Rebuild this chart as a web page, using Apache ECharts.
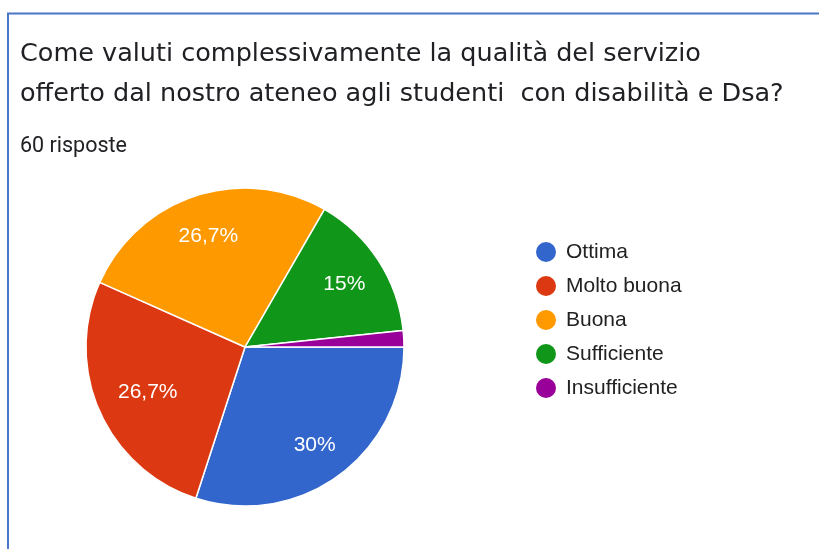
<!DOCTYPE html>
<html><head><meta charset="utf-8">
<script src="https://cdn.jsdelivr.net/npm/echarts@6/dist/echarts.min.js"></script>
<style>html,body{margin:0;padding:0;background:#fff}#c{width:819px;height:549px}</style>
</head><body><div id="c"></div>
<script>
const categories = ['Ottima', 'Molto buona', 'Buona', 'Sufficiente', 'Insufficiente'];
const counts = [18, 16, 16, 9, 1];
const colors = ['#3366cc', '#dc3912', '#ff9900', '#109618', '#990099'];
const titleLines = ['Come valuti complessivamente la qualità del servizio', 'offerto dal nostro ateneo agli studenti  con disabilità e Dsa?'];
const subtitle = '60 risposte';

const data = categories.map((n, i) => ({ name: n, value: counts[i], itemStyle: { color: colors[i] } }));
const fmt = p => {
  const v = Math.round(p.percent * 10) / 10;
  return String(v).replace('.', ',') + '%';
};
const chart = echarts.init(document.getElementById('c'));
chart.setOption({
  animation: false,
  graphic: [{
    type: 'rect', shape: { x: 8, y: 13.5, width: 830, height: 560 },
    style: { fill: 'none', stroke: '#4a76c8', lineWidth: 2 }, silent: true
  }],
  title: [{
    text: titleLines.join('\n'), left: 15, top: 29,
    textStyle: { fontFamily: 'DejaVu Sans', fontSize: 25.5, fontWeight: 'normal', color: '#202124', lineHeight: 40 }
  }, {
    text: subtitle, left: 15, top: 131,
    textStyle: { fontFamily: 'Roboto', fontSize: 21.5, fontWeight: 'normal', color: '#202124' }
  }],
  legend: {
    orient: 'vertical', left: 529, top: 235, icon: 'circle', itemWidth: 22, itemHeight: 22, itemGap: 10,
    data: categories,
    textStyle: { fontFamily: 'Liberation Sans', fontSize: 21, lineHeight: 22, color: '#222', padding: [0, 0, 0, 4] }
  },
  series: [{
    type: 'pie', center: [245, 347], radius: [0, 159], startAngle: 0, clockwise: true,
    data: data, label: { show: false }, labelLine: { show: false },
    itemStyle: { borderColor: '#fff', borderWidth: 1.5 }, silent: true
  }, {
    type: 'pie', center: [245, 347], radius: [72, 159], startAngle: 0, clockwise: true,
    data: data.map((d, i) => i === 1
      ? { name: d.name, value: d.value, label: { offset: [11, -2.5] } }
      : { name: d.name, value: d.value }),
    itemStyle: { color: 'rgba(0,0,0,0)' },
    minShowLabelAngle: 10,
    label: { show: true, position: 'inside', offset: [0, 2], formatter: fmt, color: '#fff', fontFamily: 'Liberation Sans', fontSize: 21 },
    labelLine: { show: false }, silent: true, z: 3
  }]
});
</script></body></html>
